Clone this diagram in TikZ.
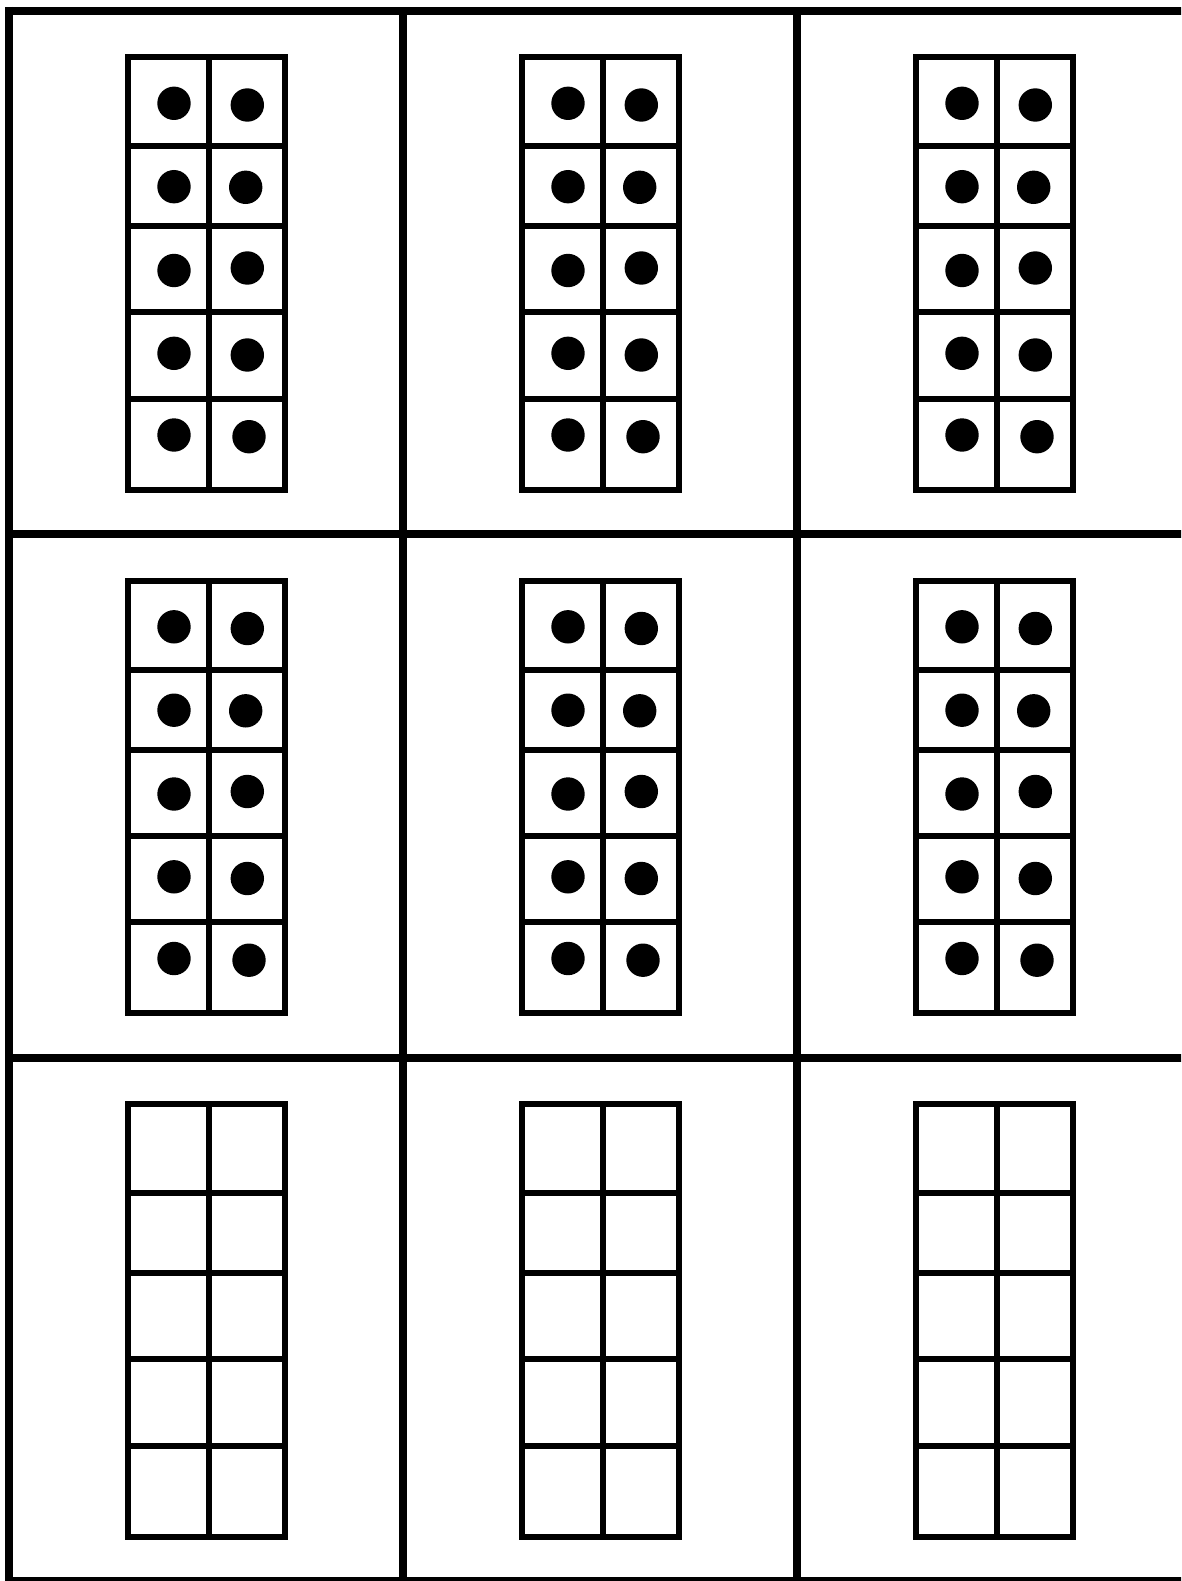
\documentclass[tikz,border=0pt]{standalone}
\begin{document}
\begin{tikzpicture}[x=1pt,y=-1pt,
  outerline/.style={line width=8pt,black},
  divline/.style={line width=7.5pt,black},
  framebox/.style={line width=6pt,black},
  counter/.style={fill=black}]
\useasboundingbox (0,0) rectangle (1181,1581);
\clip (0,0) rectangle (1181,1581);
\fill[white] (0,0) rectangle (1181,1581);
% outer grid
\draw[outerline] (9,7) -- (9,1590);
\foreach \x in {403,797} \draw[divline] (\x,11) -- (\x,1590);
\draw[outerline] (5,11) -- (1190,11);
\foreach \y in {534,1058} \draw[divline] (9,\y) -- (1190,\y);
\draw[outerline] (5,1581) -- (1190,1581);
% ten-frames
\foreach \i in {0,1,2}{
  \foreach \j in {0,1,2}{
    \begin{scope}[shift={({9+394*\i},{11+523.5*\j})}]
      \draw[framebox] (119,46) rectangle (276.3,478.7);
      \draw[framebox] (199.7,46) -- (199.7,478.7);
      \foreach \yy in {135.3,215.3,301.2,387.8}
        \draw[framebox] (119,\yy) -- (276.3,\yy);
      \ifnum\j<2
        \foreach \p in {(165,92.3),(238.3,94),(165,175.7),(236.7,176.3),(165,259.5),(238.3,257),(165,342.3),(238.3,344),(165,424),(240,425.7)}
          \fill[counter] \p circle (16.7);
      \fi
    \end{scope}
  }
}
\end{tikzpicture}
\end{document}
